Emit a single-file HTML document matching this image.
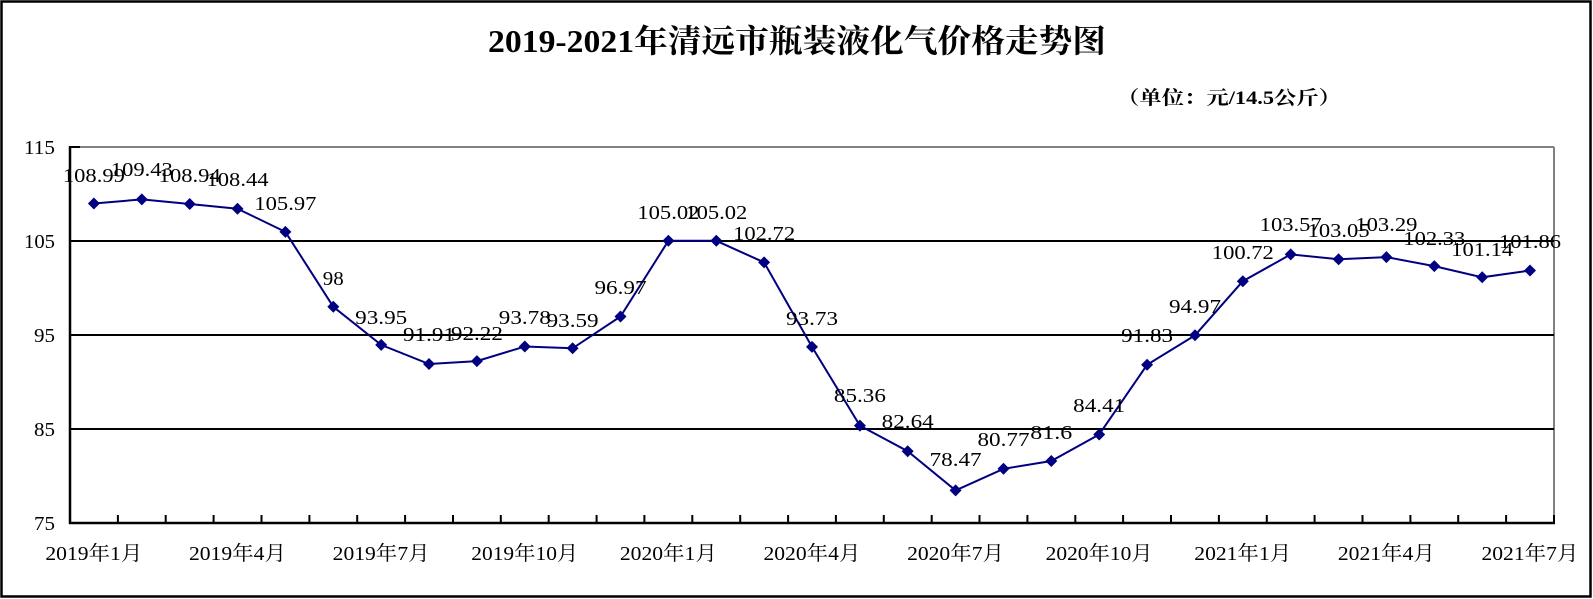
<!DOCTYPE html>
<html><head><meta charset="utf-8"><style>
html,body{margin:0;padding:0;background:#fff}
svg{display:block}
text{font-family:"Liberation Serif","Noto Serif CJK SC",serif;fill:#000}
</style></head><body>
<svg width="1593" height="599" viewBox="0 0 1593 599" xmlns="http://www.w3.org/2000/svg">
<rect x="1.5" y="1.5" width="1589" height="595" fill="#fff" stroke="#000" stroke-width="2.5"/>
<text x="797" y="52" text-anchor="middle" font-size="32" font-weight="bold" textLength="618" lengthAdjust="spacingAndGlyphs">2019-2021年清远市瓶装液化气价格走势图</text>
<text x="1229" y="104" text-anchor="middle" font-size="19" font-weight="bold" textLength="224" lengthAdjust="spacingAndGlyphs">（单位：元/14.5公斤）</text>
<line x1="70" y1="147" x2="1554" y2="147" stroke="#808080" stroke-width="2"/>
<line x1="1554" y1="147" x2="1554" y2="523" stroke="#808080" stroke-width="2"/>
<line x1="70" y1="241" x2="1554" y2="241" stroke="#000" stroke-width="2"/>
<line x1="70" y1="335" x2="1554" y2="335" stroke="#000" stroke-width="2"/>
<line x1="70" y1="429" x2="1554" y2="429" stroke="#000" stroke-width="2"/>
<line x1="70" y1="147" x2="80" y2="147" stroke="#000" stroke-width="2"/>
<line x1="70" y1="146" x2="70" y2="524" stroke="#000" stroke-width="2.5"/>
<line x1="69" y1="523" x2="1555" y2="523" stroke="#000" stroke-width="2.5"/>
<g stroke="#000" stroke-width="2">
<path d="M117.9 523V515M165.7 523V515M213.6 523V515M261.5 523V515M309.4 523V515M357.2 523V515M405.1 523V515M453 523V515M500.8 523V515M548.7 523V515M596.6 523V515M644.4 523V515M692.3 523V515M740.2 523V515M788.1 523V515M835.9 523V515M883.8 523V515M931.7 523V515M979.5 523V515M1027.4 523V515M1075.3 523V515M1123.1 523V515M1171 523V515M1218.9 523V515M1266.8 523V515M1314.6 523V515M1362.5 523V515M1410.4 523V515M1458.2 523V515M1506.1 523V515M1554 523V515"/>
</g>
<g font-size="20" text-anchor="end">
<text x="55" y="154" textLength="31" lengthAdjust="spacingAndGlyphs">115</text>
<text x="55" y="248" textLength="31" lengthAdjust="spacingAndGlyphs">105</text>
<text x="55" y="342" textLength="21" lengthAdjust="spacingAndGlyphs">95</text>
<text x="55" y="436" textLength="21" lengthAdjust="spacingAndGlyphs">85</text>
<text x="55" y="530" textLength="21" lengthAdjust="spacingAndGlyphs">75</text>
</g>
<g font-size="20" text-anchor="middle">
<text x="93.9" y="560" textLength="97" lengthAdjust="spacingAndGlyphs">2019年1月</text>
<text x="237.5" y="560" textLength="97" lengthAdjust="spacingAndGlyphs">2019年4月</text>
<text x="381.2" y="560" textLength="97" lengthAdjust="spacingAndGlyphs">2019年7月</text>
<text x="524.8" y="560" textLength="107" lengthAdjust="spacingAndGlyphs">2019年10月</text>
<text x="668.4" y="560" textLength="97" lengthAdjust="spacingAndGlyphs">2020年1月</text>
<text x="812" y="560" textLength="97" lengthAdjust="spacingAndGlyphs">2020年4月</text>
<text x="955.6" y="560" textLength="97" lengthAdjust="spacingAndGlyphs">2020年7月</text>
<text x="1099.2" y="560" textLength="107" lengthAdjust="spacingAndGlyphs">2020年10月</text>
<text x="1242.8" y="560" textLength="97" lengthAdjust="spacingAndGlyphs">2021年1月</text>
<text x="1386.4" y="560" textLength="97" lengthAdjust="spacingAndGlyphs">2021年4月</text>
<text x="1530" y="560" textLength="97" lengthAdjust="spacingAndGlyphs">2021年7月</text>
</g>
<polyline fill="none" stroke="#000080" stroke-width="2" points="93.9,203.5 141.8,199.4 189.7,204 237.5,208.7 285.4,231.9 333.3,306.8 381.2,344.9 429,364 476.9,361.1 524.8,346.5 572.6,348.3 620.5,316.5 668.4,240.8 716.3,240.8 764.1,262.4 812,346.9 859.9,425.6 907.7,451.2 955.6,490.4 1003.5,468.8 1051.3,461 1099.2,434.5 1147.1,364.8 1195,335.3 1242.8,281.2 1290.7,254.4 1338.6,259.3 1386.4,257.1 1434.3,266.1 1482.2,277.3 1530,270.5"/>
<g fill="#000080">
<path d="M93.9 197.5l6 6-6 6-6-6z M141.8 193.4l6 6-6 6-6-6z M189.7 198l6 6-6 6-6-6z M237.5 202.7l6 6-6 6-6-6z M285.4 225.9l6 6-6 6-6-6z M333.3 300.8l6 6-6 6-6-6z M381.2 338.9l6 6-6 6-6-6z M429 358l6 6-6 6-6-6z M476.9 355.1l6 6-6 6-6-6z M524.8 340.5l6 6-6 6-6-6z M572.6 342.3l6 6-6 6-6-6z M620.5 310.5l6 6-6 6-6-6z M668.4 234.8l6 6-6 6-6-6z M716.3 234.8l6 6-6 6-6-6z M764.1 256.4l6 6-6 6-6-6z M812 340.9l6 6-6 6-6-6z M859.9 419.6l6 6-6 6-6-6z M907.7 445.2l6 6-6 6-6-6z M955.6 484.4l6 6-6 6-6-6z M1003.5 462.8l6 6-6 6-6-6z M1051.3 455l6 6-6 6-6-6z M1099.2 428.5l6 6-6 6-6-6z M1147.1 358.8l6 6-6 6-6-6z M1195 329.3l6 6-6 6-6-6z M1242.8 275.2l6 6-6 6-6-6z M1290.7 248.4l6 6-6 6-6-6z M1338.6 253.3l6 6-6 6-6-6z M1386.4 251.1l6 6-6 6-6-6z M1434.3 260.1l6 6-6 6-6-6z M1482.2 271.3l6 6-6 6-6-6z M1530 264.5l6 6-6 6-6-6z"/>
</g>
<g font-size="20" text-anchor="middle" lengthAdjust="spacingAndGlyphs">
<text x="93.9" y="182" textLength="62" lengthAdjust="spacingAndGlyphs">108.99</text>
<text x="141.8" y="176" textLength="62" lengthAdjust="spacingAndGlyphs">109.43</text>
<text x="189.7" y="182" textLength="62" lengthAdjust="spacingAndGlyphs">108.94</text>
<text x="237.5" y="186" textLength="62" lengthAdjust="spacingAndGlyphs">108.44</text>
<text x="285.4" y="210" textLength="62" lengthAdjust="spacingAndGlyphs">105.97</text>
<text x="333.3" y="285" textLength="21" lengthAdjust="spacingAndGlyphs">98</text>
<text x="381.2" y="324" textLength="52" lengthAdjust="spacingAndGlyphs">93.95</text>
<text x="429" y="341" textLength="52" lengthAdjust="spacingAndGlyphs">91.91</text>
<text x="476.9" y="340" textLength="52" lengthAdjust="spacingAndGlyphs">92.22</text>
<text x="524.8" y="324" textLength="52" lengthAdjust="spacingAndGlyphs">93.78</text>
<text x="572.6" y="327" textLength="52" lengthAdjust="spacingAndGlyphs">93.59</text>
<text x="620.5" y="294" textLength="52" lengthAdjust="spacingAndGlyphs">96.97</text>
<text x="668.4" y="219" textLength="62" lengthAdjust="spacingAndGlyphs">105.02</text>
<text x="716.3" y="219" textLength="62" lengthAdjust="spacingAndGlyphs">105.02</text>
<text x="764.1" y="240" textLength="62" lengthAdjust="spacingAndGlyphs">102.72</text>
<text x="812" y="325" textLength="52" lengthAdjust="spacingAndGlyphs">93.73</text>
<text x="859.9" y="402" textLength="52" lengthAdjust="spacingAndGlyphs">85.36</text>
<text x="907.7" y="428" textLength="52" lengthAdjust="spacingAndGlyphs">82.64</text>
<text x="955.6" y="466" textLength="52" lengthAdjust="spacingAndGlyphs">78.47</text>
<text x="1003.5" y="446" textLength="52" lengthAdjust="spacingAndGlyphs">80.77</text>
<text x="1051.3" y="439" textLength="42" lengthAdjust="spacingAndGlyphs">81.6</text>
<text x="1099.2" y="412" textLength="52" lengthAdjust="spacingAndGlyphs">84.41</text>
<text x="1147.1" y="342" textLength="52" lengthAdjust="spacingAndGlyphs">91.83</text>
<text x="1195" y="313" textLength="52" lengthAdjust="spacingAndGlyphs">94.97</text>
<text x="1242.8" y="259" textLength="62" lengthAdjust="spacingAndGlyphs">100.72</text>
<text x="1290.7" y="231" textLength="62" lengthAdjust="spacingAndGlyphs">103.57</text>
<text x="1338.6" y="237" textLength="62" lengthAdjust="spacingAndGlyphs">103.05</text>
<text x="1386.4" y="231" textLength="62" lengthAdjust="spacingAndGlyphs">103.29</text>
<text x="1434.3" y="245" textLength="62" lengthAdjust="spacingAndGlyphs">102.33</text>
<text x="1482.2" y="256" textLength="62" lengthAdjust="spacingAndGlyphs">101.14</text>
<text x="1530" y="248" textLength="62" lengthAdjust="spacingAndGlyphs">101.86</text>
</g>
</svg>
</body></html>
